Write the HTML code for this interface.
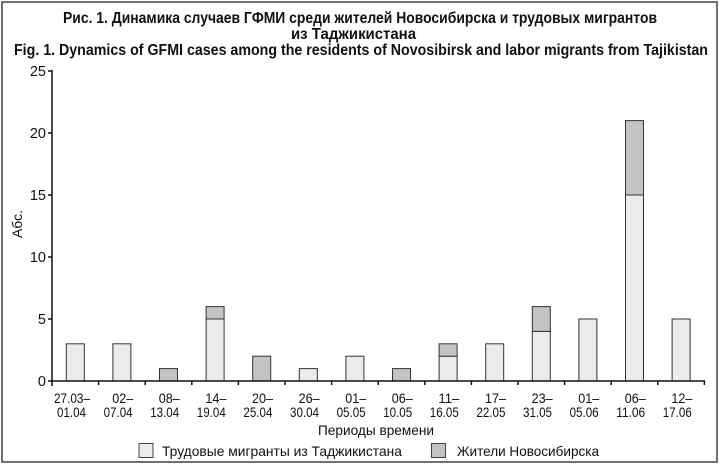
<!DOCTYPE html>
<html><head><meta charset="utf-8"><style>
html,body{margin:0;padding:0;background:#fff;}
svg{display:block;}
text{font-family:"Liberation Sans",Arial,sans-serif;fill:#111;}
</style></head><body>
<svg width="720" height="469" viewBox="0 0 720 469" xmlns="http://www.w3.org/2000/svg">
<rect x="0" y="0" width="720" height="469" fill="#fff"/>
<rect x="2" y="2" width="715" height="460" fill="none" stroke="#707070" stroke-width="2"/>
<g font-weight="bold" font-size="15.5">
<text x="63" y="23" textLength="594" lengthAdjust="spacingAndGlyphs">Рис. 1. Динамика случаев ГФМИ среди жителей Новосибирска и трудовых мигрантов</text>
<text x="291" y="39" textLength="125" lengthAdjust="spacingAndGlyphs">из Таджикистана</text>
<text x="14" y="55" textLength="694" lengthAdjust="spacingAndGlyphs">Fig. 1. Dynamics of GFMI cases among the residents of Novosibirsk and labor migrants from Tajikistan</text>
</g>
<!-- y axis -->
<g stroke="#111" stroke-width="1.5">
<line x1="52" y1="70" x2="52" y2="382"/>
<line x1="48" y1="71" x2="52" y2="71"/>
<line x1="48" y1="133" x2="52" y2="133"/>
<line x1="48" y1="195" x2="52" y2="195"/>
<line x1="48" y1="257" x2="52" y2="257"/>
<line x1="48" y1="319" x2="52" y2="319"/>
<line x1="48" y1="381" x2="52" y2="381"/>
</g>
<g font-size="14.5" text-anchor="end">
<text x="46" y="76">25</text>
<text x="46" y="138">20</text>
<text x="46" y="200">15</text>
<text x="46" y="262">10</text>
<text x="46" y="324">5</text>
<text x="46" y="386">0</text>
</g>
<text x="0" y="0" font-size="14" text-anchor="middle" transform="translate(22,224) rotate(-90)">Абс.</text>
<!-- bars -->
<g stroke="#333" stroke-width="1">
<rect x="66.3" y="343.8" width="18" height="37.2" fill="#ebebeb"/>
<rect x="112.9" y="343.8" width="18" height="37.2" fill="#ebebeb"/>
<rect x="159.5" y="368.6" width="18" height="12.4" fill="#c3c3c3"/>
<rect x="206.1" y="319" width="18" height="62" fill="#ebebeb"/>
<rect x="206.1" y="306.6" width="18" height="12.4" fill="#c3c3c3"/>
<rect x="252.7" y="356.2" width="18" height="24.8" fill="#c3c3c3"/>
<rect x="299.3" y="368.6" width="18" height="12.4" fill="#ebebeb"/>
<rect x="345.9" y="356.2" width="18" height="24.8" fill="#ebebeb"/>
<rect x="392.5" y="368.6" width="18" height="12.4" fill="#c3c3c3"/>
<rect x="439.1" y="356.2" width="18" height="24.8" fill="#ebebeb"/>
<rect x="439.1" y="343.8" width="18" height="12.4" fill="#c3c3c3"/>
<rect x="485.7" y="343.8" width="18" height="37.2" fill="#ebebeb"/>
<rect x="532.3" y="331.4" width="18" height="49.6" fill="#ebebeb"/>
<rect x="532.3" y="306.6" width="18" height="24.8" fill="#c3c3c3"/>
<rect x="578.9" y="319" width="18" height="62" fill="#ebebeb"/>
<rect x="625.5" y="195" width="18" height="186" fill="#ebebeb"/>
<rect x="625.5" y="120.6" width="18" height="74.4" fill="#c3c3c3"/>
<rect x="672.1" y="319" width="18" height="62" fill="#ebebeb"/>
</g>
<!-- x axis -->
<g stroke="#111" stroke-width="1.5">
<line x1="51" y1="381" x2="705" y2="381"/>
<line x1="52" y1="381" x2="52" y2="386"/>
<line x1="98.6" y1="381" x2="98.6" y2="385"/>
<line x1="145.2" y1="381" x2="145.2" y2="385"/>
<line x1="191.8" y1="381" x2="191.8" y2="385"/>
<line x1="238.4" y1="381" x2="238.4" y2="385"/>
<line x1="285" y1="381" x2="285" y2="385"/>
<line x1="331.6" y1="381" x2="331.6" y2="385"/>
<line x1="378.2" y1="381" x2="378.2" y2="385"/>
<line x1="424.8" y1="381" x2="424.8" y2="385"/>
<line x1="471.4" y1="381" x2="471.4" y2="385"/>
<line x1="518" y1="381" x2="518" y2="385"/>
<line x1="564.6" y1="381" x2="564.6" y2="385"/>
<line x1="611.2" y1="381" x2="611.2" y2="385"/>
<line x1="657.8" y1="381" x2="657.8" y2="385"/>
<line x1="704.4" y1="381" x2="704.4" y2="385"/>
</g>
<g font-size="14">
<text x="54" y="403" textLength="36" lengthAdjust="spacingAndGlyphs">27.03–</text><text x="57" y="417" textLength="29" lengthAdjust="spacingAndGlyphs">01.04</text>
<text x="112.2" y="403" textLength="21" lengthAdjust="spacingAndGlyphs">02–</text><text x="103.6" y="417" textLength="29" lengthAdjust="spacingAndGlyphs">07.04</text>
<text x="158.8" y="403" textLength="21" lengthAdjust="spacingAndGlyphs">08–</text><text x="150.2" y="417" textLength="29" lengthAdjust="spacingAndGlyphs">13.04</text>
<text x="205.4" y="403" textLength="21" lengthAdjust="spacingAndGlyphs">14–</text><text x="196.8" y="417" textLength="29" lengthAdjust="spacingAndGlyphs">19.04</text>
<text x="252" y="403" textLength="21" lengthAdjust="spacingAndGlyphs">20–</text><text x="243.4" y="417" textLength="29" lengthAdjust="spacingAndGlyphs">25.04</text>
<text x="298.6" y="403" textLength="21" lengthAdjust="spacingAndGlyphs">26–</text><text x="290" y="417" textLength="29" lengthAdjust="spacingAndGlyphs">30.04</text>
<text x="345.2" y="403" textLength="21" lengthAdjust="spacingAndGlyphs">01–</text><text x="336.6" y="417" textLength="29" lengthAdjust="spacingAndGlyphs">05.05</text>
<text x="391.8" y="403" textLength="21" lengthAdjust="spacingAndGlyphs">06–</text><text x="383.2" y="417" textLength="29" lengthAdjust="spacingAndGlyphs">10.05</text>
<text x="438.4" y="403" textLength="21" lengthAdjust="spacingAndGlyphs">11–</text><text x="429.8" y="417" textLength="29" lengthAdjust="spacingAndGlyphs">16.05</text>
<text x="485" y="403" textLength="21" lengthAdjust="spacingAndGlyphs">17–</text><text x="476.4" y="417" textLength="29" lengthAdjust="spacingAndGlyphs">22.05</text>
<text x="531.6" y="403" textLength="21" lengthAdjust="spacingAndGlyphs">23–</text><text x="523" y="417" textLength="29" lengthAdjust="spacingAndGlyphs">31.05</text>
<text x="578.2" y="403" textLength="21" lengthAdjust="spacingAndGlyphs">01–</text><text x="569.6" y="417" textLength="29" lengthAdjust="spacingAndGlyphs">05.06</text>
<text x="624.8" y="403" textLength="21" lengthAdjust="spacingAndGlyphs">06–</text><text x="616.2" y="417" textLength="29" lengthAdjust="spacingAndGlyphs">11.06</text>
<text x="671.4" y="403" textLength="21" lengthAdjust="spacingAndGlyphs">12–</text><text x="662.8" y="417" textLength="29" lengthAdjust="spacingAndGlyphs">17.06</text>
</g>
<text x="318" y="435" font-size="14" textLength="116" lengthAdjust="spacingAndGlyphs">Периоды времени</text>
<!-- legend -->
<rect x="139" y="443.5" width="14" height="14" fill="#ebebeb" stroke="#444" stroke-width="1"/>
<text x="162" y="456" font-size="14" textLength="240" lengthAdjust="spacingAndGlyphs">Трудовые мигранты из Таджикистана</text>
<rect x="431.5" y="443.5" width="14" height="14" fill="#c3c3c3" stroke="#444" stroke-width="1"/>
<text x="457" y="456" font-size="14" textLength="142" lengthAdjust="spacingAndGlyphs">Жители Новосибирска</text>
</svg>
</body></html>
